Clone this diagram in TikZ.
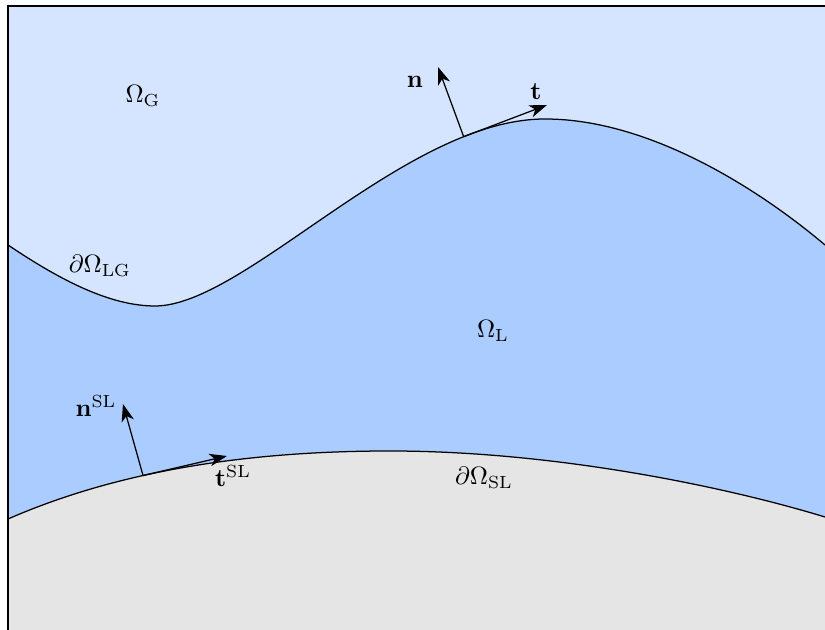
\documentclass[tikz,border=0pt]{standalone}
\usepackage{xcolor}
\usepackage{amsmath}
\usepackage{tikz}
\usetikzlibrary{arrows.meta}

\definecolor{gasblue}{HTML}{D5E5FF}
\definecolor{liqblue}{HTML}{AACCFF}
\definecolor{solidgray}{HTML}{E5E5E5}

\begin{document}
\begin{tikzpicture}[x=0.014cm, y=-0.014cm,
  interface/.style={draw=black, line width=0.5pt},
  vecarrow/.style={-{Stealth[length=7pt, width=5pt, inset=2pt]}, line width=0.5pt}]

\useasboundingbox (0,0) rectangle (825,630);

% Gas (fundo)
\fill[gasblue] (8,6) rectangle (825,630);

% Liquido
\fill[liqblue] (8,245) .. controls (60,280) and (110,306) .. (155,306)
  .. controls (245,306) and (405,119) .. (545,119)
  .. controls (650,119) and (760,190) .. (825,245)
  -- (825,630) -- (8,630) -- cycle;

% Solido
\fill[solidgray] (8,519) .. controls (120,470) and (250,451) .. (390,451)
  .. controls (550,451) and (720,485) .. (825,517)
  -- (825,630) -- (8,630) -- cycle;

% Interface liquido-gas
\draw[interface] (8,245) .. controls (60,280) and (110,306) .. (155,306)
  .. controls (245,306) and (405,119) .. (545,119) coordinate[pos=0.81] (nLG)
  .. controls (650,119) and (760,190) .. (825,245);

% Interface solido-liquido
\draw[interface] (8,519) .. controls (120,470) and (250,451) .. (390,451) coordinate[pos=0.38] (nSL)
  .. controls (550,451) and (720,485) .. (825,517);

% Moldura
\draw[line width=0.7pt] (8,630) -- (8,6) -- (825,6);

% Vetores na interface LG
\coordinate (nLGtip) at (438,67);
\coordinate (tLGtip) at (547,105);
\draw[vecarrow] (nLG) -- (nLGtip);
\draw[vecarrow] (nLG) -- (tLGtip);
\node (nlabel) at (415,82) {$\mathbf{n}$};
\node (tlabel) at (536,92) {$\mathbf{t}$};

% Vetores na interface SL
\coordinate (nSLtip) at (123,404);
\coordinate (tSLtip) at (227,456);
\draw[vecarrow] (nSL) -- (nSLtip);
\draw[vecarrow] (nSL) -- (tSLtip);
\node (nSLlabel) at (96,406) {$\mathbf{n}^{\mathrm{SL}}$};
\node (tSLlabel) at (233,476) {$\mathbf{t}^{\mathrm{SL}}$};

% Dominios e fronteiras
\node (OmegaG) at (143,96) {$\Omega_{\mathrm{G}}$};
\node (OmegaL) at (493,331) {$\Omega_{\mathrm{L}}$};
\node (dOmegaLG) at (100,266) {$\partial\Omega_{\mathrm{LG}}$};
\node (dOmegaSL) at (484,478) {$\partial\Omega_{\mathrm{SL}}$};

\end{tikzpicture}
\end{document}
